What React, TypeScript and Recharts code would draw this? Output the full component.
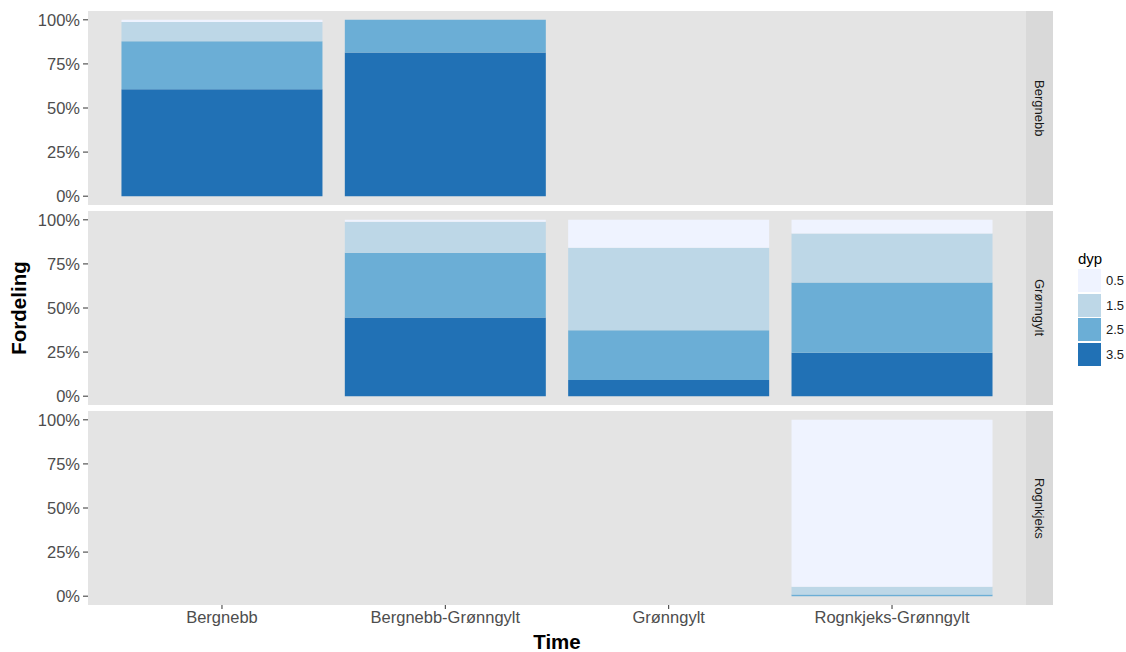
import React from 'react';
import { BarChart, Bar, XAxis, YAxis, CartesianGrid } from 'recharts';

const categories = ['Bergnebb', 'Bergnebb-Grønngylt', 'Grønngylt', 'Rognkjeks-Grønngylt'];
const facets = ['Bergnebb', 'Grønngylt', 'Rognkjeks'];
const depthLabels = ['0.5', '1.5', '2.5', '3.5'];
const depthColors = ['#EFF3FF', '#BDD7E7', '#6BAED6', '#2171B5'];
const yTicks = [0, 0.25, 0.5, 0.75, 1];

// shares per facet, one array per depth (0.5, 1.5, 2.5, 3.5), values per category
const bergnebb05 = [0.013, 0, null, null];
const bergnebb15 = [0.109, 0, null, null];
const bergnebb25 = [0.272, 0.185, null, null];
const bergnebb35 = [0.606, 0.815, null, null];

const gronngylt05 = [null, 0.011, 0.159, 0.078];
const gronngylt15 = [null, 0.176, 0.467, 0.277];
const gronngylt25 = [null, 0.367, 0.282, 0.399];
const gronngylt35 = [null, 0.446, 0.092, 0.246];

const rognkjeks05 = [null, null, null, 0.947];
const rognkjeks15 = [null, null, null, 0.043];
const rognkjeks25 = [null, null, null, 0.01];
const rognkjeks35 = [null, null, null, 0];

const facetSeries = [
  [bergnebb05, bergnebb15, bergnebb25, bergnebb35],
  [gronngylt05, gronngylt15, gronngylt25, gronngylt35],
  [rognkjeks05, rognkjeks15, rognkjeks25, rognkjeks35],
];

const keys = ['d05', 'd15', 'd25', 'd35'];

const buildData = (series: (number | null)[][]) =>
  categories.map((c, i) => {
    const row: any = { cat: c };
    keys.forEach((k, j) => {
      row[k] = series[j][i];
    });
    return row;
  });

const FONT = '"Liberation Sans", Arial, sans-serif';
const PANEL_TOP = [11, 211, 411];
const PANEL_H = 194;
const PLOT_LEFT = 88;
const PLOT_RIGHT = 1026;

function Panel({ index }: { index: number }) {
  const showX = index === 2;
  const data = buildData(facetSeries[index]);
  const xHeight = showX ? 32 : 0;
  return (
    <div style={{ position: 'absolute', left: 0, top: PANEL_TOP[index] - 10 }}>
      <BarChart
        width={PLOT_RIGHT}
        height={PANEL_H + 10 + (showX ? xHeight : 10)}
        data={data}
        margin={{ top: 10, right: 0, bottom: showX ? 0 : 10, left: 0 }}
        barCategoryGap="5%"
      >
        <CartesianGrid fill="#E4E4E4" horizontal={false} vertical={false} stroke="none" />
        <XAxis
          dataKey="cat"
          hide={!showX}
          height={xHeight}
          padding={{ left: 22.3, right: 22.3 }}
          axisLine={false}
          tickSize={4}
          tickMargin={2}
          tickLine={{ stroke: '#333333' }}
          tick={{ fill: '#4D4D4D', fontSize: 16.5, fontFamily: FONT }}
          interval={0}
        />
        <YAxis
          type="number"
          width={PLOT_LEFT}
          domain={[-0.05, 1.05]}
          allowDataOverflow
          ticks={yTicks}
          tickFormatter={(v: number) => `${Math.round(v * 100)}%`}
          axisLine={false}
          tickSize={5}
          tickMargin={3}
          tickLine={{ stroke: '#333333' }}
          tick={{ fill: '#4D4D4D', fontSize: 16.5, fontFamily: FONT }}
        />
        {[3, 2, 1, 0].map((j) => (
          <Bar
            key={keys[j]}
            dataKey={keys[j]}
            stackId="a"
            fill={depthColors[j]}
            isAnimationActive={false}
          />
        ))}
      </BarChart>
      <div
        style={{
          position: 'absolute',
          left: PLOT_RIGHT,
          top: 10,
          width: 27,
          height: PANEL_H,
          background: '#D9D9D9',
          display: 'flex',
          alignItems: 'center',
          justifyContent: 'center',
        }}
      >
        <span
          style={{
            writingMode: 'vertical-rl',
            fontFamily: FONT,
            fontSize: 13,
            color: '#1A1A1A',
          }}
        >
          {facets[index]}
        </span>
      </div>
    </div>
  );
}

export default function App() {
  return (
    <div
      style={{
        position: 'absolute',
        left: 0,
        top: 0,
        width: 1126,
        height: 652,
        background: '#FFFFFF',
        fontFamily: FONT,
        overflow: 'hidden',
      }}
    >
      {[0, 1, 2].map((i) => (
        <Panel key={i} index={i} />
      ))}
      <div
        style={{
          position: 'absolute',
          left: 19,
          top: 308,
          transform: 'translate(-50%, -50%) rotate(-90deg)',
          fontWeight: 'bold',
          fontSize: 20.5,
          lineHeight: '20px',
          color: '#000',
          whiteSpace: 'nowrap',
        }}
      >
        Fordeling
      </div>
      <div
        style={{
          position: 'absolute',
          left: 557,
          top: 642,
          transform: 'translate(-50%, -50%)',
          fontWeight: 'bold',
          fontSize: 20.5,
          lineHeight: '18px',
          color: '#000',
          whiteSpace: 'nowrap',
        }}
      >
        Time
      </div>
      <div style={{ position: 'absolute', left: 1078, top: 249 }}>
        <div style={{ fontSize: 15, color: '#000', lineHeight: '19px' }}>dyp</div>
        {depthLabels.map((d, j) => (
          <div
            key={d}
            style={{ display: 'flex', alignItems: 'center', marginTop: j === 0 ? 1 : 1.5 }}
          >
            <div style={{ width: 23, height: 23, background: depthColors[j] }} />
            <span style={{ marginLeft: 5, fontSize: 13, color: '#1A1A1A' }}>{d}</span>
          </div>
        ))}
      </div>
    </div>
  );
}
